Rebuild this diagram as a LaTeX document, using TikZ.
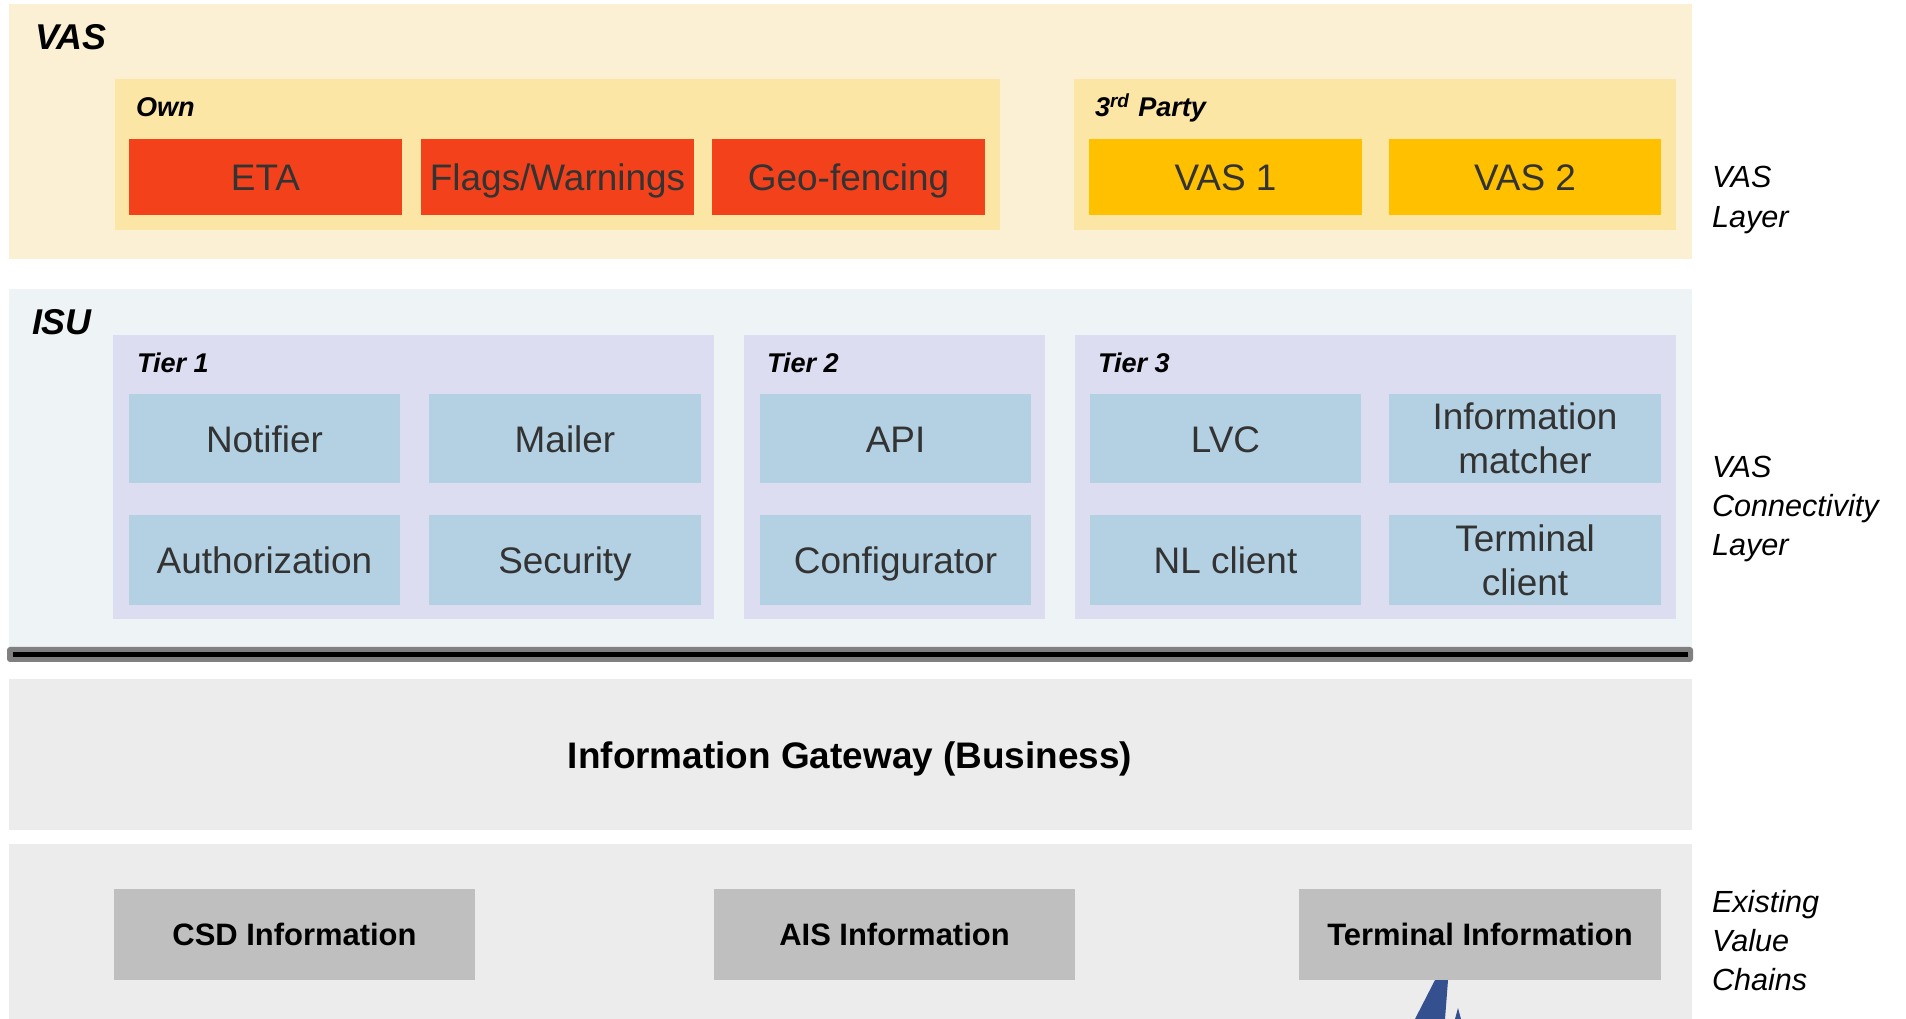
\documentclass[tikz,border=0pt]{standalone}
\usepackage{fontspec}
\setmainfont{Liberation Sans}
\usepackage{tikz}
\usetikzlibrary{positioning}

\definecolor{vasbg}{HTML}{FBF0D3}
\definecolor{ownbg}{HTML}{FCE6A6}
\definecolor{etared}{HTML}{F3421B}
\definecolor{vasamber}{HTML}{FFC000}
\definecolor{isubg}{HTML}{EEF3F5}
\definecolor{tierbg}{HTML}{DCDDF1}
\definecolor{unitblue}{HTML}{B4D1E3}
\definecolor{gatebg}{HTML}{ECECEC}
\definecolor{sourcegrey}{HTML}{BFBFBF}
\definecolor{linegrey}{HTML}{808080}
\definecolor{finblue}{HTML}{34508F}

\begin{document}
\begin{tikzpicture} [x=0.01cm, y=-0.01cm,
    every node/.style={inner sep=0pt, outer sep=0pt},
    band/.style={rectangle, minimum width=16.82cm},
    group/.style={rectangle, fill=ownbg, minimum height=1.51cm},
    tier/.style={rectangle, fill=tierbg, minimum height=2.84cm},
    part/.style={rectangle, minimum width=2.72cm, minimum height=0.76cm,
        text height=2.7mm, text depth=0pt, text=black!80,
        font=\fontsize{10.5}{12.6}\selectfont},
    unit/.style={rectangle, fill=unitblue, minimum width=2.71cm, minimum height=0.89cm,
        align=center, text=black!80, font=\fontsize{10.5}{12.6}\selectfont},
    oneline/.style={text height=2.7mm, text depth=0pt},
    source/.style={rectangle, fill=sourcegrey, minimum width=3.61cm, minimum height=0.91cm,
        text height=2.2mm, text depth=0pt, font=\bfseries\fontsize{8.8}{10.5}\selectfont},
    title/.style={anchor=base west, font=\bfseries\itshape\fontsize{10.2}{12}\selectfont},
    subtitle/.style={anchor=base west, font=\bfseries\itshape\fontsize{7.7}{9}\selectfont},
    layer/.style={anchor=west, align=left, font=\itshape\fontsize{8.7}{11.1}\selectfont}]

\useasboundingbox (0, 0) rectangle (1906, 1019);

% VAS layer
\node (vas) [band, fill=vasbg, minimum height=2.55cm] at (850, 131.5) {};
\node (vastitle) [title] at (35, 50) {VAS};

\node (own) [group, minimum width=8.85cm] at (557.5, 154.5) {};
\node (owntitle) [subtitle] at (136, 117) {Own};
\node (third) [group, minimum width=6.02cm] at (1375, 154.5) {};
\node (thirdtitle) [subtitle] at (1095, 117) {3\textsuperscript{rd} Party};

\node (eta) [part, fill=etared] at (265.5, 177) {ETA};
\node (flags) [part, fill=etared] at (557.5, 177) {Flags/Warnings};
\node (geo) [part, fill=etared] at (848.5, 177) {Geo-fencing};
\node (vas1) [part, fill=vasamber] at (1225.5, 177) {VAS 1};
\node (vas2) [part, fill=vasamber] at (1525, 177) {VAS 2};

% ISU layer
\node (isu) [band, fill=isubg, minimum height=3.58cm] at (850, 468) {};
\node (isutitle) [title] at (32, 335) {ISU};

\node (tier1) [tier, minimum width=6.01cm] at (413.5, 477) {};
\node (tier2) [tier, minimum width=3.01cm] at (894.5, 477) {};
\node (tier3) [tier, minimum width=6.01cm] at (1375.5, 477) {};
\node (tier1title) [subtitle] at (137, 373) {Tier 1};
\node (tier2title) [subtitle] at (767, 373) {Tier 2};
\node (tier3title) [subtitle] at (1098, 373) {Tier 3};

\node (notifier) [unit, oneline] at (264.5, 438.5) {Notifier};
\node (mailer) [unit, oneline] at (565, 438.5) {Mailer};
\node (api) [unit, oneline] at (895.5, 438.5) {API};
\node (lvc) [unit, oneline] at (1225.5, 438.5) {LVC};
\node (matcher) [unit] at (1525, 438.5) {Information\\matcher};
\node (auth) [unit, oneline] at (264.5, 560) {Authorization};
\node (security) [unit, oneline] at (565, 560) {Security};
\node (config) [unit, oneline] at (895.5, 560) {Configurator};
\node (nlclient) [unit, oneline] at (1225.5, 560) {NL client};
\node (terminal) [unit] at (1525, 560) {Terminal\\client};

% divider
\coordinate (divl) at (13, 654.5);
\coordinate (divr) at (1688, 654.5);
\fill [linegrey, rounded corners=0.3mm] (7, 647) rectangle (1693, 662);
\draw [line width=0.5mm] (divl) -- (divr);

% gateway and value chains
\node (gateway) [band, fill=gatebg, minimum height=1.51cm, oneline,
    font=\bfseries\fontsize{10.5}{12.6}\selectfont] at (850, 754.5) {Information Gateway (Business)};
\node (chains) [band, fill=gatebg, minimum height=1.75cm] at (850, 931.5) {};

\fill [finblue] (1435, 980) -- (1448, 980) -- (1445, 1019) -- (1415, 1019) -- cycle;
\fill [finblue] (1455, 1019) -- (1458, 1008) -- (1461, 1019) -- cycle;

\node (csd) [source] at (294.5, 934.5) {CSD Information};
\node (ais) [source] at (894.5, 934.5) {AIS Information};
\node (terminfo) [source] at (1480, 934.5) {Terminal Information};

% layer names
\node (vaslayer) [layer] at (1712, 200) {VAS\\Layer};
\node (conlayer) [layer] at (1712, 509) {VAS\\Connectivity\\Layer};
\node (existing) [layer] at (1712, 941) {Existing\\Value\\Chains};
\end{tikzpicture}
\end{document}
